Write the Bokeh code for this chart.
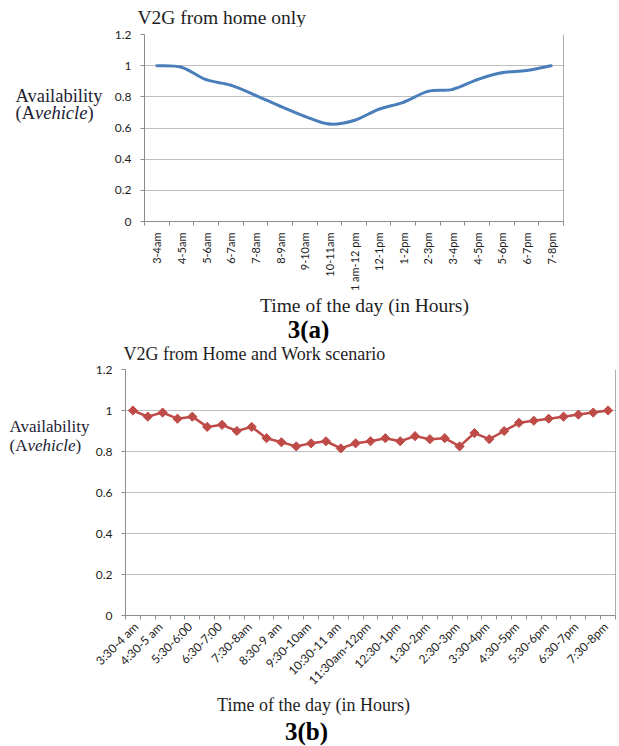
from math import pi
from bokeh.plotting import figure
from bokeh.models import FixedTicker, Span, Range1d
from bokeh.layouts import column, row
from bokeh.core.properties import value
from bokeh.embed import file_html
from bokeh.resources import INLINE

# ---------------- data ----------------
home_slots = ["3-4am", "4-5am", "5-6am", "6-7am", "7-8am", "8-9am", "9-10am",
              "10-11am", "1 am-12 pm", "12-1pm", "1-2pm", "2-3pm", "3-4pm",
              "4-5pm", "5-6pm", "6-7pm", "7-8pm"]
home_avail = [1.0, 0.99, 0.91, 0.875, 0.81, 0.74, 0.675, 0.625, 0.648, 0.72,
              0.765, 0.835, 0.848, 0.91, 0.954, 0.969, 1.0]

work_slots = ["3:30-4 am", "4-4:30 am", "4:30-5 am", "5-5:30 am", "5:30-6:00",
              "6-6:30", "6:30-7:00", "7-7:30", "7:30-8am", "8-8:30am",
              "8:30-9 am", "9-9:30am", "9:30-10am", "10-10:30am", "10:30-11 am",
              "11-11:30am", "11:30am-12pm", "12-12:30pm", "12:30-1pm",
              "1-1:30pm", "1:30-2pm", "2-2:30pm", "2:30-3pm", "3-3:30pm",
              "3:30-4pm", "4-4:30pm", "4:30-5pm", "5-5:30pm", "5:30-6pm",
              "6-6:30pm", "6:30-7pm", "7-7:30pm", "7:30-8pm"]
work_avail = [1.0, 0.97, 0.99, 0.96, 0.97, 0.92, 0.93, 0.90, 0.92, 0.865,
              0.845, 0.825, 0.84, 0.85, 0.815, 0.84, 0.85, 0.865, 0.85, 0.875,
              0.86, 0.865, 0.825, 0.89, 0.86, 0.90, 0.94, 0.95, 0.96, 0.97,
              0.98, 0.99, 1.0]

y_ticks = [0, 0.2, 0.4, 0.6, 0.8, 1.0, 1.2]
y_tick_labels = ["0", "0.2", "0.4", "0.6", "0.8", "1", "1.2"]

SERIF = "Liberation Serif"
SANS = "Lato"
GRID = "#BFBFBF"
AXIS = "#8C8C8C"
TXT = "#1E1E1E"
YLAB = "#1C2233"
W = 619


def chart_fig(w, h, slots, label_step, left, right, top, bottom, xfont,
              orient, standoff, label_shift):
    n = len(slots)
    p = figure(width=w, height=h, title=None,
               x_range=Range1d(-0.5, n - 0.5), y_range=Range1d(0, 1.2),
               output_backend="svg", toolbar_location=None,
               min_border_left=left, min_border_right=right,
               min_border_top=top, min_border_bottom=bottom)
    p.outline_line_color = None
    p.xgrid.visible = False
    p.ygrid.grid_line_color = GRID
    p.ygrid.grid_line_width = 1.2
    # y axis
    p.yaxis.ticker = FixedTicker(ticks=y_ticks)
    p.yaxis.major_label_overrides = {t: l for t, l in zip(y_ticks, y_tick_labels)}
    p.yaxis.axis_line_color = AXIS
    p.yaxis.major_tick_line_color = AXIS
    p.yaxis.major_tick_out = 4
    p.yaxis.major_tick_in = 0
    p.yaxis.minor_tick_line_color = None
    p.yaxis.major_label_standoff = 9
    p.yaxis.major_label_text_font = SANS
    p.yaxis.major_label_text_font_size = "12px"
    p.yaxis.major_label_text_color = TXT
    # x axis: tick marks on category boundaries, labels at category centres
    shown = list(range(0, n, label_step))
    p.xaxis.ticker = FixedTicker(ticks=[i + label_shift for i in shown],
                                 minor_ticks=[i - 0.5 for i in range(n + 1)])
    p.xaxis.major_label_overrides = {i + label_shift: slots[i] for i in shown}
    p.xaxis.major_tick_out = 0
    p.xaxis.major_tick_in = 0
    p.xaxis.minor_tick_out = 4
    p.xaxis.minor_tick_in = 0
    p.xaxis.minor_tick_line_color = AXIS
    p.xaxis.axis_line_color = AXIS
    p.xaxis.major_label_orientation = orient
    p.xaxis.major_label_standoff = standoff
    p.xaxis.major_label_text_font = SANS
    p.xaxis.major_label_text_font_size = xfont
    p.xaxis.major_label_text_color = TXT
    # right border of the plot area
    p.add_layout(Span(location=n - 0.5, dimension="height",
                      line_color="#5A5A5A", line_width=1))
    return p


def text_fig(w, h, top=0, bottom=0):
    # bare canvas; data units are pixels measured down from the frame top
    fh = h - top - bottom
    t = figure(width=w, height=h, title=None, x_range=Range1d(0, w),
               y_range=Range1d(fh, 0), x_axis_type=None, y_axis_type=None,
               output_backend="svg", toolbar_location=None, min_border=0,
               min_border_top=top, min_border_bottom=bottom)
    t.outline_line_color = None
    t.grid.visible = False
    return t


def put(t, x, y, s, size, align="left", style="normal", color=TXT):
    t.text(x=[x], y=[y], text=[s], text_font=value(SERIF),
           text_font_size=value(size), text_font_style=value(style),
           text_align=value(align), text_baseline=value("middle"),
           text_color=color)


def ylabel(t, x, y1, y2, s):
    put(t, x, y1, "Availability", f"{s}px", color=YLAB)
    put(t, x, y2, "(A", f"{s}px", color=YLAB)
    put(t, x + 1.055 * s, y2, "vehicle", f"{s}px", style="italic", color=YLAB)
    put(t, x + (1.055 + 2.832) * s, y2, ")", f"{s}px", color=YLAB)


# ================= chart (a) =================
# page rows: title 0-27, chart 27-294 (frame 34-227), titles 294-343
ta = text_fig(W, 27)
put(ta, 137, 17, "V2G from home only", "19.5px")

ya = text_fig(110, 267, top=7, bottom=67)          # frame: page y 34..227
ylabel(ya, 15, 97 - 34, 115 - 34, 18.5)

pa = chart_fig(W - 110, 267, home_slots, 1, 34, 56, 7, 67, "11px", pi / 2, 7, 0)

# smoothed line: cubic Bezier segments through the data points
xs = list(range(len(home_avail)))
ys = home_avail
n = len(xs)
x0s, y0s, x1s, y1s, cx0, cy0, cx1, cy1 = [], [], [], [], [], [], [], []
for i in range(n - 1):
    a = max(i - 1, 0)
    d = min(i + 2, n - 1)
    x0s.append(xs[i]); y0s.append(ys[i])
    x1s.append(xs[i + 1]); y1s.append(ys[i + 1])
    cx0.append(xs[i] + (xs[i + 1] - xs[a]) / 6)
    cy0.append(ys[i] + (ys[i + 1] - ys[a]) / 6)
    cx1.append(xs[i + 1] - (xs[d] - xs[i]) / 6)
    cy1.append(ys[i + 1] - (ys[d] - ys[i]) / 6)
pa.bezier(x0=x0s, y0=y0s, x1=x1s, y1=y1s, cx0=cx0, cy0=cy0, cx1=cx1, cy1=cy1,
          line_color="#4A7EBB", line_width=3, line_cap="round")

xa = text_fig(W, 49)
put(xa, 364, 305 - 294, "Time of the day (in Hours)", "19.5px", align="center")
put(xa, 308, 329 - 294, "3(a)", "25px", align="center", style="bold",
    color="#000000")

# ================= chart (b) =================
# page rows: title 343-363, chart 363-695 (frame 369-615), titles 695-746
tb = text_fig(W, 20)
put(tb, 123, 353 - 343, "V2G from Home and Work scenario", "18px")

yb = text_fig(92, 332, top=6, bottom=80)            # frame: page y 369..615
ylabel(yb, 9, 426 - 369, 445 - 369, 17)

pb = chart_fig(W - 92, 332, work_slots, 2, 32, 4, 6, 80, "12px", pi / 4, 5, -0.15)
pb.line(list(range(len(work_avail))), work_avail, line_color="#BE4B48",
        line_width=2.5)
pb.scatter(list(range(len(work_avail))), work_avail, marker="square",
           angle=pi / 4, size=6.5, fill_color="#BE4B48", line_color="#BE4B48")

xb = text_fig(W, 51)
put(xb, 313, 704 - 695, "Time of the day (in Hours)", "18px", align="center")
put(xb, 306, 731 - 695, "3(b)", "25px", align="center", style="bold",
    color="#000000")

layout = column(ta, row(ya, pa, spacing=0), xa, tb, row(yb, pb, spacing=0), xb,
                spacing=0)
open("out.html", "w").write(file_html(layout, INLINE))
